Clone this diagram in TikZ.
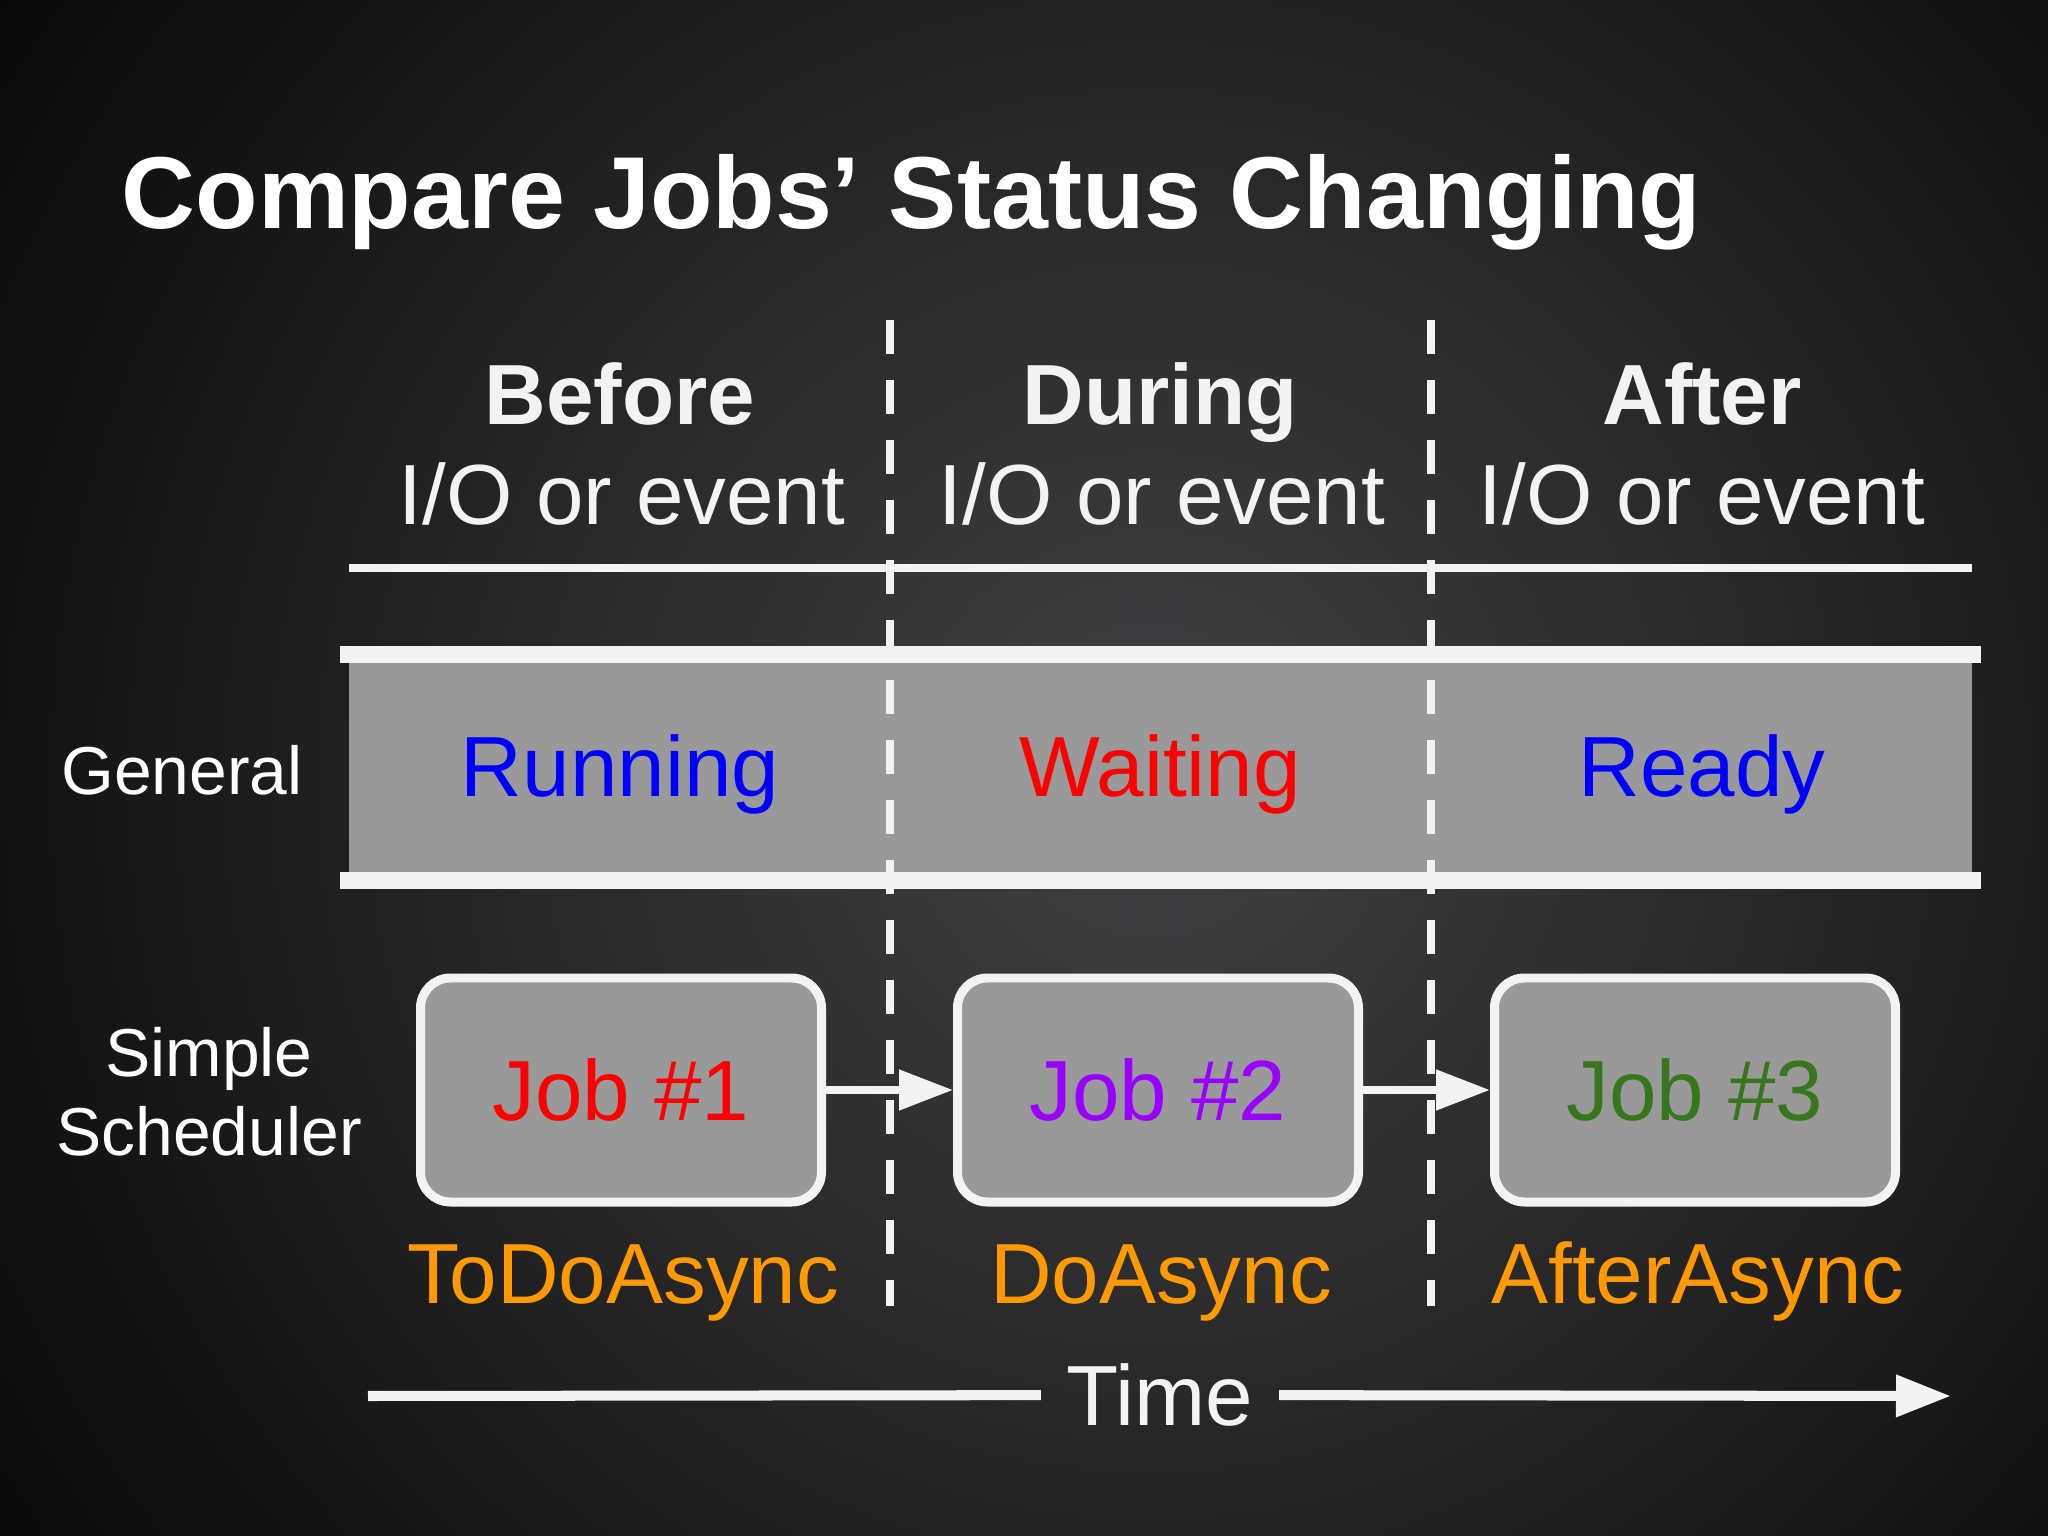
\documentclass[tikz,border=0pt]{standalone}
\usepackage{fontspec}
\setmainfont{Liberation Sans}
\usetikzlibrary{arrows.meta, positioning, calc}

\definecolor{bgmid}{RGB}{66,66,68}
\definecolor{bgdark}{RGB}{8,8,8}
\definecolor{linewhite}{RGB}{243,243,243}
\definecolor{bandgray}{RGB}{153,153,153}
\definecolor{jobpurple}{RGB}{153,0,255}
\definecolor{jobgreen}{RGB}{56,118,29}
\definecolor{asyncorange}{RGB}{255,153,0}

\newcommand{\bigfont}{\fontsize{24.3}{28}\selectfont}
\newcommand{\smallfont}{\fontsize{19.3}{22.5}\selectfont}

\begin{document}
\begin{tikzpicture}[
    titletext/.style={font=\fontsize{29.1}{34}\selectfont\bfseries, text=white, anchor=base west, inner sep=0pt},
    colhead/.style={font=\bigfont\bfseries, text=linewhite, anchor=base, inner sep=0pt},
    colsub/.style={font=\bigfont, text=linewhite, anchor=base, inner sep=0pt},
    status/.style={font=\bigfont, anchor=base, inner sep=0pt},
    rowlabel/.style={font=\smallfont, text=white, align=center, inner sep=0pt},
    band/.style={fill=bandgray, minimum width=16.23cm, minimum height=2.25cm, inner sep=0pt},
    jobbox/.style={draw=linewhite, line width=2.56pt, fill=bandgray, rounded corners=0.3cm, minimum width=4.01cm, minimum height=2.24cm, font=\bigfont},
    asynclabel/.style={font=\bigfont, text=asyncorange, anchor=base, inner sep=0pt},
    flow/.style={draw=linewhite, line width=2.3pt, -{Triangle[length=0.54cm, width=0.39cm]}},
    timeline/.style={draw=linewhite, line width=2.85pt},
    divider/.style={draw=linewhite, line width=2.3pt, dash pattern=on 0.34cm off 0.26cm},
    bandline/.style={draw=linewhite, line width=4.8pt},
    headline/.style={draw=linewhite, line width=2.3pt}
]
    % background
    \useasboundingbox (0,0) rectangle (20.48,-15.36);
    \fill[bgdark] (0,0) rectangle (20.48,-15.36);
    \begin{scope}
      \clip (0,0) rectangle (20.48,-15.36);
      \shade[inner color=bgmid, outer color=bgdark] (11.5,-7.8) circle (14cm);
    \end{scope}

    \node[titletext] (Title) at (1.21,-2.29) {Compare Jobs’ Status Changing};

    % column headers
    \node[colhead] (BeforeHd) at (6.20,-4.24) {Before};
    \node[colsub]  (BeforeIO) at (6.22,-5.25) {I/O or event};
    \node[colhead] (DuringHd) at (11.60,-4.24) {During};
    \node[colsub]  (DuringIO) at (11.62,-5.25) {I/O or event};
    \node[colhead] (AfterHd)  at (17.02,-4.24) {After};
    \node[colsub]  (AfterIO)  at (17.02,-5.25) {I/O or event};

    \coordinate (HeadL) at (3.49,-5.68);
    \coordinate (HeadR) at (19.72,-5.68);
    \draw[headline] (HeadL) -- (HeadR);

    % general row
    \node[band] (Band) at (11.605,-7.675) {};
    \draw[bandline] ($(Band.north west)+(-0.08,0)$) -- ($(Band.north east)+(0.08,0)$);
    \draw[bandline] ($(Band.south west)+(-0.08,0)$) -- ($(Band.south east)+(0.08,0)$);

    % dividers
    \coordinate (DivAtop) at (8.90,-3.20);
    \coordinate (DivAbot) at (8.90,-13.06);
    \coordinate (DivBtop) at (14.31,-3.20);
    \coordinate (DivBbot) at (14.31,-13.06);
    \draw[divider] (DivAtop) -- (DivAbot);
    \draw[divider] (DivBtop) -- (DivBbot);

    \node[rowlabel, anchor=base] (General) at (1.82,-7.94) {General};
    \node[status, text=blue] (Running) at (6.20,-7.97) {Running};
    \node[status, text=red]  (Waiting) at (11.60,-7.97) {Waiting};
    \node[status, text=blue] (Ready)   at (17.02,-7.97) {Ready};

    % simple scheduler row
    \node[rowlabel] (Simple) at (2.09,-10.92) {Simple\\Scheduler};
    \node[jobbox, text=red]        (Job1) at (6.21,-10.90) {Job \#1};
    \node[jobbox, text=jobpurple]  (Job2) [right=1.27cm of Job1] {Job \#2};
    \node[jobbox, text=jobgreen]   (Job3) [right=1.27cm of Job2] {Job \#3};

    \draw[flow] (Job1) -- (Job2);
    \draw[flow] (Job2) -- (Job3);

    \node[asynclabel] (ToDo)  at (6.23,-13.03) {ToDoAsync};
    \node[asynclabel] (Do)    at (11.61,-13.03) {DoAsync};
    \node[asynclabel] (After) at (16.98,-13.03) {AfterAsync};

    % time axis
    \node[font=\bigfont, text=linewhite, inner ysep=0pt, inner xsep=0.25cm] (Time) at (11.60,-13.95) {Time};
    \coordinate (TimeStart) at (3.68,-13.96);
    \coordinate (TimeEnd) at (19.51,-13.96);
    \draw[timeline] (TimeStart) -- (Time);
    \draw[timeline, -{Triangle[length=0.55cm, width=0.40cm]}] (Time) -- (TimeEnd);

\end{tikzpicture}
\end{document}
